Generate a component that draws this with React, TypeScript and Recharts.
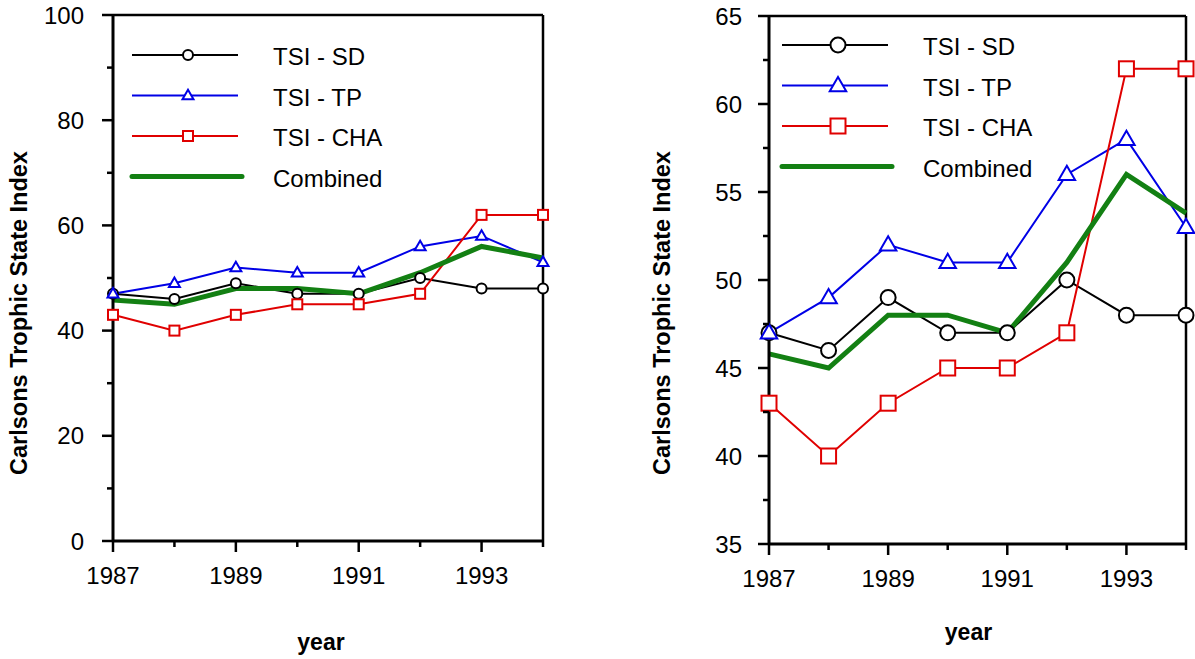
import { LineChart, Line, XAxis, YAxis, ReferenceLine, Legend, Label } from "recharts";

const FONT = "'Liberation Sans', Arial, sans-serif";

const years = [1987, 1988, 1989, 1990, 1991, 1992, 1993, 1994];
const tsiSD = [47, 46, 49, 47, 47, 50, 48, 48];
const tsiTP = [47, 49, 52, 51, 51, 56, 58, 53];
const tsiCHA = [43, 40, 43, 45, 45, 47, 62, 62];
const combined = [45.8, 45, 48, 48, 47, 51, 56, 53.8];

const fullScaleTicks = [0, 10, 20, 30, 40, 50, 60, 70, 80, 90, 100];
const closeScaleTicks = [35, 37.5, 40, 42.5, 45, 47.5, 50, 52.5, 55, 57.5, 60, 62.5, 65];

const yTitle = "Carlsons Trophic State Index";
const xTitle = "year";

const data = years.map((year, i) => ({
  year,
  sd: tsiSD[i],
  tp: tsiTP[i],
  cha: tsiCHA[i],
  combined: combined[i],
}));

type Marker = "circle" | "triangle" | "square" | "none";

const series: { key: string; name: string; color: string; width: number; marker: Marker }[] = [
  { key: "sd", name: "TSI - SD", color: "#000000", width: 2, marker: "circle" },
  { key: "tp", name: "TSI - TP", color: "#0000e6", width: 2, marker: "triangle" },
  { key: "cha", name: "TSI - CHA", color: "#e00000", width: 2, marker: "square" },
  { key: "combined", name: "Combined", color: "#138013", width: 5, marker: "none" },
];

function drawMarker(kind: Marker, cx: number, cy: number, size: number, color: string, key?: string) {
  if (kind === "circle") {
    return <circle key={key} cx={cx} cy={cy} r={size / 2} fill="#fff" stroke={color} strokeWidth={2} />;
  }
  if (kind === "square") {
    return (
      <rect key={key} x={cx - size / 2} y={cy - size / 2} width={size} height={size} fill="#fff" stroke={color} strokeWidth={2} />
    );
  }
  if (kind === "triangle") {
    const w = size * 1.1;
    const h = size * 0.95;
    const pts = `${cx},${cy - h * 0.6} ${cx + w / 2},${cy + h * 0.4} ${cx - w / 2},${cy + h * 0.4}`;
    return <polygon key={key} points={pts} fill="#fff" stroke={color} strokeWidth={2} strokeLinejoin="miter" />;
  }
  return null;
}

function makeDot(kind: Marker, size: number, color: string) {
  return (props: any) => {
    const key = `dot-${props.index}`;
    if (props.cx == null || props.cy == null) return <g key={key} />;
    return drawMarker(kind, props.cx, props.cy, size, color, key);
  };
}

// bottom axis: long ticks with labels on odd years, short ones between
function YearTick(props: any) {
  const { x, y, payload } = props;
  const major = payload.value % 2 === 1;
  return (
    <g>
      <line x1={x} x2={x} y1={y} y2={y + (major ? 11 : 6)} stroke="#000" strokeWidth={2.5} />
      {major && (
        <text x={x} y={y + 43} textAnchor="middle" fontSize={24} fontFamily={FONT} fill="#000">
          {payload.value}
        </text>
      )}
    </g>
  );
}

function makeValueTick(labelStep: number, gap: number) {
  return (props: any) => {
    const { x, y, payload } = props;
    const major = Math.abs(payload.value / labelStep - Math.round(payload.value / labelStep)) < 1e-6;
    return (
      <g>
        <line x1={x} x2={x - (major ? 11 : 6)} y1={y} y2={y} stroke="#000" strokeWidth={2.5} />
        {major && (
          <text x={x - gap} y={y + 8.5} textAnchor="end" fontSize={24} fontFamily={FONT} fill="#000">
            {payload.value}
          </text>
        )}
      </g>
    );
  };
}

// legend rows keep the series order, not the legend's sorted payload
function LegendRows({ markerSize }: { markerSize: number }) {
  return (
    <svg width={300} height={170} style={{ display: "block", overflow: "visible" }}>
      {series.map((s, i) => {
        const y = 20 + i * 40.5;
        const thick = s.marker === "none";
        return (
          <g key={s.key}>
            <line
              x1={12}
              x2={thick ? 122 : 118}
              y1={y}
              y2={y}
              stroke={s.color}
              strokeWidth={s.width}
              strokeLinecap={thick ? "round" : "butt"}
            />
            {drawMarker(s.marker, 68, y, markerSize, s.color)}
            <text x={153} y={y + 10} fontSize={24} fontFamily={FONT} fill="#000">
              {s.name}
            </text>
          </g>
        );
      })}
    </svg>
  );
}

type PanelProps = {
  width: number;
  margin: { top: number; right: number; bottom: number; left: number };
  yAxisWidth: number;
  xAxisHeight: number;
  domain: [number, number];
  ticks: number[];
  labelStep: number;
  labelGap: number;
  markerSize: number;
  legendPos: { left: number; top: number };
  yTitlePos: { x: number; y: number };
  xTitleBaseline: number;
  xTitleShift: number;
};

function Panel(p: PanelProps) {
  return (
    <LineChart width={p.width} height={659} data={data} margin={p.margin}>
      <XAxis
        dataKey="year"
        type="number"
        domain={[1987, 1994]}
        ticks={years}
        interval={0}
        tickSize={0}
        tickMargin={0}
        height={p.xAxisHeight}
        tick={YearTick}
        tickLine={false}
        axisLine={{ stroke: "#000", strokeWidth: 3 }}
      >
        <Label
          content={({ viewBox }: any) => (
            <text
              x={viewBox.x + viewBox.width / 2 + p.xTitleShift}
              y={p.xTitleBaseline}
              textAnchor="middle"
              fontSize={23}
              fontWeight="bold"
              fontFamily={FONT}
              fill="#000"
            >
              {xTitle}
            </text>
          )}
        />
      </XAxis>
      <YAxis
        type="number"
        domain={p.domain}
        ticks={p.ticks}
        interval={0}
        tickSize={0}
        tickMargin={0}
        width={p.yAxisWidth}
        tick={makeValueTick(p.labelStep, p.labelGap)}
        tickLine={false}
        axisLine={{ stroke: "#000", strokeWidth: 3 }}
      >
        <Label
          content={() => (
            <text
              x={p.yTitlePos.x}
              y={p.yTitlePos.y}
              transform={`rotate(-90 ${p.yTitlePos.x} ${p.yTitlePos.y})`}
              textAnchor="middle"
              fontSize={23.5}
              fontWeight="bold"
              fontFamily={FONT}
              fill="#000"
            >
              {yTitle}
            </text>
          )}
        />
      </YAxis>
      {/* box closing the plot at the top and right */}
      <ReferenceLine y={p.domain[1]} stroke="#000" strokeWidth={2.5} />
      <ReferenceLine x={1994} stroke="#000" strokeWidth={2.5} />
      {series.map((s) => (
        <Line
          key={s.key}
          dataKey={s.key}
          name={s.name}
          type="linear"
          stroke={s.color}
          strokeWidth={s.width}
          dot={s.marker === "none" ? false : makeDot(s.marker, p.markerSize, s.color)}
          activeDot={false}
          isAnimationActive={false}
        />
      ))}
      <Legend
        layout="horizontal"
        align="center"
        verticalAlign="middle"
        wrapperStyle={{ left: p.legendPos.left, top: p.legendPos.top, width: 300 }}
        content={() => <LegendRows markerSize={p.markerSize} />}
      />
    </LineChart>
  );
}

export default function App() {
  return (
    <div style={{ position: "absolute", left: 0, top: 0, width: 1195, height: 659, background: "#fff", fontFamily: FONT }}>
      <div style={{ position: "absolute", left: 0, top: 0 }}>
        <Panel
          width={600}
          margin={{ top: 15, right: 57, bottom: 0, left: 0 }}
          yAxisWidth={113}
          xAxisHeight={118}
          domain={[0, 100]}
          ticks={fullScaleTicks}
          labelStep={20}
          labelGap={29}
          markerSize={10}
          legendPos={{ left: 120, top: 35 }}
          yTitlePos={{ x: 27, y: 313 }}
          xTitleBaseline={650}
          xTitleShift={-7}
        />
      </div>
      <div style={{ position: "absolute", left: 600, top: 0 }}>
        <Panel
          width={595}
          margin={{ top: 16, right: 9, bottom: 0, left: 0 }}
          yAxisWidth={169}
          xAxisHeight={115}
          domain={[35, 65]}
          ticks={closeScaleTicks}
          labelStep={5}
          labelGap={27}
          markerSize={15}
          legendPos={{ left: 170, top: 25 }}
          yTitlePos={{ x: 70, y: 313 }}
          xTitleBaseline={640}
          xTitleShift={-9}
        />
      </div>
    </div>
  );
}
